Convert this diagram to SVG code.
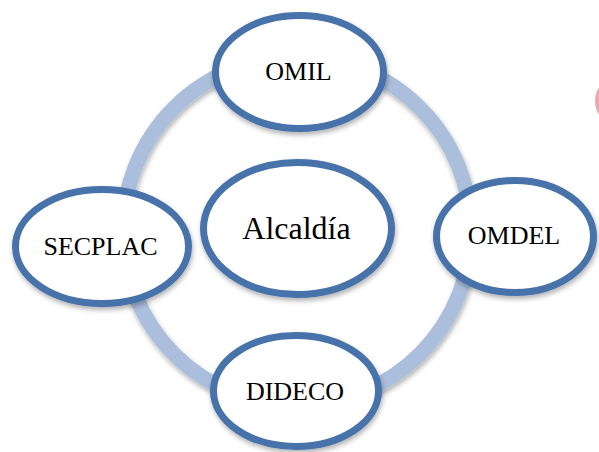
<svg xmlns="http://www.w3.org/2000/svg" width="599" height="452" viewBox="0 0 599 452">
<defs>
<filter id="sh" x="-20%" y="-20%" width="140%" height="150%">
<feDropShadow dx="1" dy="3" stdDeviation="2.5" flood-color="#000" flood-opacity="0.3"/>
</filter>
<style>
.node{fill:#fff;stroke:#4672AA;stroke-width:7;filter:url(#sh)}
.lbl{font-family:"Liberation Serif","Times New Roman",serif;font-size:26px;fill:#000;text-anchor:middle}
.ring{fill:none;stroke:#ABBEDC;stroke-width:15;filter:url(#sh)}
</style>
</defs>
<rect width="599" height="452" fill="#fff"/>
<ellipse cx="614" cy="101" rx="19" ry="22" fill="#E8AAAC"/>
<g id="connectors">
<circle class="ring" cx="297" cy="231" r="174"/>
</g>
<g id="omil">
<ellipse class="node" cx="299.5" cy="72" rx="84" ry="56.5"/>
<text class="lbl" x="298.5" y="80">OMIL</text>
</g>
<g id="secplac">
<ellipse class="node" cx="102" cy="246.5" rx="86.5" ry="57"/>
<text class="lbl" x="100.5" y="255">SECPLAC</text>
</g>
<g id="omdel">
<ellipse class="node" cx="515" cy="236.5" rx="78.5" ry="56"/>
<text class="lbl" x="514" y="244">OMDEL</text>
</g>
<g id="dideco">
<ellipse class="node" cx="296" cy="391" rx="82.5" ry="55.5"/>
<text class="lbl" x="295" y="400">DIDECO</text>
</g>
<g id="alcaldia">
<ellipse class="node" cx="297.5" cy="228.5" rx="94" ry="66"/>
<text class="lbl" x="296.5" y="239" style="font-size:32px">Alcaldía</text>
</g>
</svg>
